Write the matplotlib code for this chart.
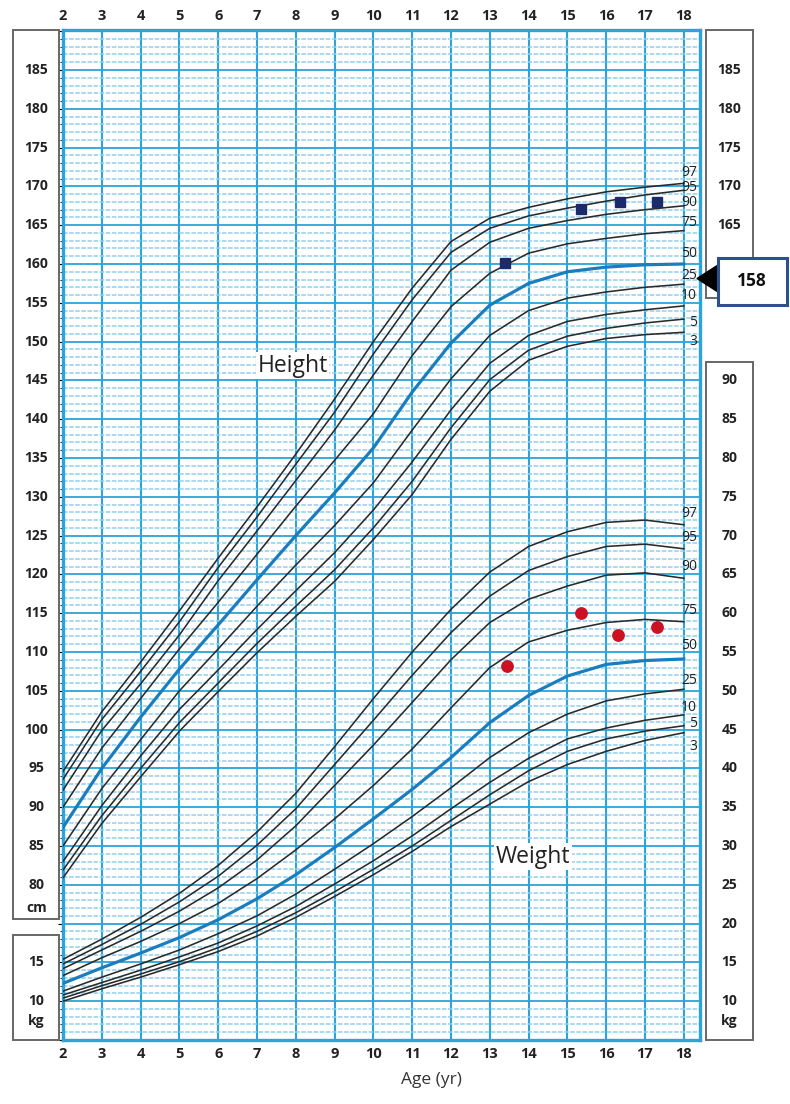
import numpy as np
import matplotlib
matplotlib.use("Agg")
import matplotlib.pyplot as plt
from matplotlib.patches import Rectangle, Polygon
from matplotlib.transforms import blended_transform_factory

# ---------------- data ----------------
ages = [2, 3, 4, 5, 6, 7, 8, 9, 10, 11, 12, 13, 14, 15, 16, 17, 18]
percentile_names = ["3", "5", "10", "25", "50", "75", "90", "95", "97"]

height_p3 = [80.9, 87.9, 93.9, 99.8, 104.9, 109.9, 114.6, 119.1, 124.5, 130.3, 137.4, 143.6, 147.6, 149.4, 150.4, 150.9, 151.2]
height_p5 = [81.9, 88.9, 95.0, 100.9, 106.0, 111.1, 115.9, 120.6, 126.0, 132.0, 138.9, 145.1, 148.9, 150.7, 151.7, 152.4, 152.9]
height_p10 = [83.0, 90.2, 96.6, 102.6, 107.7, 112.9, 117.9, 122.8, 128.3, 134.5, 141.2, 147.2, 150.8, 152.6, 153.5, 154.1, 154.6]
height_p25 = [85.0, 92.4, 98.7, 105.0, 110.4, 115.9, 121.2, 126.3, 131.8, 138.6, 145.2, 150.8, 154.0, 155.6, 156.4, 157.0, 157.4]
height_p50 = [87.4, 95.0, 101.6, 107.8, 113.5, 119.3, 125.0, 130.5, 136.3, 143.5, 149.8, 154.7, 157.5, 159.0, 159.6, 159.9, 160.0]
height_p75 = [90.0, 97.6, 104.0, 110.4, 116.4, 122.6, 128.8, 134.7, 140.7, 148.2, 154.5, 158.8, 161.4, 162.6, 163.3, 163.9, 164.3]
height_p90 = [92.2, 99.9, 105.9, 112.2, 119.2, 125.6, 132.1, 138.6, 145.7, 152.6, 159.2, 162.8, 164.6, 165.6, 166.4, 167.0, 167.5]
height_p95 = [93.6, 101.3, 107.5, 113.9, 120.9, 127.4, 134.2, 140.9, 148.4, 155.4, 161.5, 164.6, 166.2, 167.2, 168.1, 168.9, 169.5]
height_p97 = [94.6, 102.3, 108.7, 115.3, 122.1, 128.7, 135.5, 142.6, 150.0, 156.9, 162.9, 165.9, 167.3, 168.4, 169.3, 169.9, 170.4]

weight_p3 = [10.0, 11.6, 13.1, 14.7, 16.4, 18.4, 20.8, 23.5, 26.3, 29.3, 32.5, 35.4, 38.3, 40.5, 42.2, 43.6, 44.6]
weight_p5 = [10.4, 12.0, 13.5, 15.1, 16.9, 19.0, 21.4, 24.1, 27.0, 30.0, 33.3, 36.6, 39.7, 42.2, 43.8, 44.8, 45.5]
weight_p10 = [10.8, 12.4, 14.0, 15.7, 17.5, 19.7, 22.2, 25.1, 28.1, 31.3, 34.8, 38.2, 41.3, 43.8, 45.2, 46.2, 46.9]
weight_p25 = [11.3, 13.1, 14.8, 16.6, 18.7, 21.0, 23.8, 27.0, 30.3, 33.8, 37.5, 41.4, 44.6, 47.0, 48.7, 49.6, 50.2]
weight_p50 = [12.3, 14.3, 16.2, 18.2, 20.5, 23.2, 26.3, 29.8, 33.5, 37.3, 41.4, 45.9, 49.4, 51.9, 53.4, 53.9, 54.1]
weight_p75 = [13.3, 15.6, 17.7, 20.0, 22.6, 25.8, 29.5, 33.5, 37.8, 42.5, 47.8, 53.0, 56.3, 57.8, 58.8, 59.2, 58.9]
weight_p90 = [14.2, 16.6, 19.0, 21.6, 24.6, 28.2, 32.6, 37.8, 43.0, 48.5, 54.0, 58.8, 61.8, 63.5, 64.9, 65.2, 64.5]
weight_p95 = [14.8, 17.3, 19.9, 22.8, 26.1, 30.1, 34.8, 40.5, 46.2, 52.0, 57.5, 62.2, 65.5, 67.3, 68.6, 68.9, 68.3]
weight_p97 = [15.4, 18.0, 20.8, 23.9, 27.5, 31.8, 36.8, 42.8, 49.0, 55.0, 60.5, 65.3, 68.6, 70.5, 71.7, 72.0, 71.4]

patient_height_age = [13.4, 15.35, 16.35, 17.3]
patient_height = [160.1, 167.1, 168.0, 168.0]
patient_weight_age = [13.45, 15.35, 16.3, 17.3]
patient_weight = [53.2, 60.0, 57.2, 58.2]
current_height_text = "158"

height_left_labels = list(range(80, 186, 5))
height_right_labels = [185, 180, 175, 170, 165]
weight_left_labels = [15, 10]
weight_right_labels = list(range(10, 91, 5))

height_curves = [height_p3, height_p5, height_p10, height_p25, height_p50,
                 height_p75, height_p90, height_p95, height_p97]
weight_curves = [weight_p3, weight_p5, weight_p10, weight_p25, weight_p50,
                 weight_p75, weight_p90, weight_p95, weight_p97]

# ---------------- layout constants ----------------
W, H = 790, 1104
PX_PER_YEAR = 38.8
PX_PER_UNIT = 7.76
AX_L, AX_R, AX_T, AX_B = 63, 700, 30, 1040
WEIGHT_SHIFT = 55  # weight axis offset vs height axis

def fx(px):
    return px / W

def fy(py):
    return 1 - py / H

GRID_BLUE = "#2aa4da"
MINOR_BLUE = "#92d0ec"
CURVE_BLACK = "#2a2a2a"
MEDIAN_BLUE = "#1a7dbd"
TEXT = "#222222"
NUM_FONT = ["Open Sans", "DejaVu Sans"]

fig = plt.figure(figsize=(W / 100, H / 100), dpi=100)
ax = fig.add_axes([fx(AX_L), fy(AX_B), fx(AX_R - AX_L), (AX_B - AX_T) / H])
x_max = 2 + (AX_R - AX_L) / PX_PER_YEAR
y_min, y_max = 60, 60 + (AX_B - AX_T) / PX_PER_UNIT
ax.set_xlim(2, x_max)
ax.set_ylim(y_min, y_max)

# grid
ax.set_xticks(ages)
ax.set_yticks(np.arange(60, 191, 5))
ax.set_yticks(np.arange(60, 191, 1), minor=True)
ax.set_axisbelow(True)
ax.grid(which="minor", axis="y", color=MINOR_BLUE, lw=1.1, ls=(0, (3, 1)))
ax.grid(which="major", axis="y", color=GRID_BLUE, lw=1.3)
ax.grid(which="major", axis="x", color=GRID_BLUE, lw=1.5)
for s in ax.spines.values():
    s.set_color(GRID_BLUE)
    s.set_linewidth(2.4)

ax.tick_params(axis="y", which="both", left=False, right=False,
               labelleft=False, labelright=False)
ax.tick_params(axis="x", which="both", length=0, top=True, bottom=True,
               labeltop=True, labelbottom=True, pad=5, labelsize=10.5,
               labelcolor=TEXT)
for lab in ax.get_xticklabels():
    lab.set_fontweight("bold")
    lab.set_fontfamily(NUM_FONT)

ax2 = ax.twinx()
ax2.set_ylim(y_min - WEIGHT_SHIFT, y_max - WEIGHT_SHIFT)
ax2.set_xlim(2, x_max)
ax2.axis("off")

# curves
for name, vals in zip(percentile_names, height_curves):
    if name == "50":
        ax.plot(ages, vals, color=MEDIAN_BLUE, lw=2.3, zorder=3,
                solid_joinstyle="round")
    else:
        ax.plot(ages, vals, color=CURVE_BLACK, lw=1.15, zorder=3,
                solid_joinstyle="round")
for name, vals in zip(percentile_names, weight_curves):
    if name == "50":
        ax2.plot(ages, vals, color=MEDIAN_BLUE, lw=2.3, zorder=3,
                 solid_joinstyle="round")
    else:
        ax2.plot(ages, vals, color=CURVE_BLACK, lw=1.15, zorder=3,
                 solid_joinstyle="round")

# patient data
ax.plot(patient_height_age, patient_height, ls="none", marker="s", ms=7.5,
        color="#1b2a6b", zorder=5)
ax2.plot(patient_weight_age, patient_weight, ls="none", marker="o", ms=8.2,
         color="#cc1122", zorder=5)

# percentile labels
lab_x = 2 + (697 - AX_L) / PX_PER_YEAR
h_label_y = [150.0, 152.5, 155.9, 158.5, 161.4, 165.3, 167.9, 169.8, 171.8]
w_label_y = [42.8, 45.8, 47.9, 51.3, 55.9, 60.4, 66.0, 69.7, 72.9]
for name, yv in zip(percentile_names, h_label_y):
    ax.text(lab_x, yv, name, ha="right", va="center", fontsize=10,
            color=TEXT, family=NUM_FONT, zorder=6)
for name, yv in zip(percentile_names, w_label_y):
    ax2.text(lab_x, yv, name, ha="right", va="center", fontsize=10,
             color=TEXT, family=NUM_FONT, zorder=6)

ax.text(2 + (293 - AX_L) / PX_PER_YEAR, 146.9, "Height", ha="center",
        va="center", fontsize=16.5, color=TEXT, family=NUM_FONT, zorder=6,
        bbox=dict(facecolor="white", edgecolor="none", pad=1.0))
ax2.text(2 + (533 - AX_L) / PX_PER_YEAR, 28.6, "Weight", ha="center",
         va="center", fontsize=16.5, color=TEXT, family=NUM_FONT, zorder=6,
         bbox=dict(facecolor="white", edgecolor="none", pad=1.0))

# side boxes
def box(x0, y0, x1, y1, ec="#666666", lw=1.4):
    fig.add_artist(Rectangle((fx(x0), fy(y1)), fx(x1 - x0), (y1 - y0) / H,
                             transform=fig.transFigure, facecolor="white",
                             edgecolor=ec, lw=lw, zorder=1))

box(13, 30, 59.5, 918.5)
box(13, 935, 59.5, 1039.5)
box(706, 30, 752.5, 298)
box(706, 362, 752.5, 1039.5)

tl = blended_transform_factory(fig.transFigure, ax.transData)
tw = blended_transform_factory(fig.transFigure, ax2.transData)
for v in height_left_labels:
    fig.text(fx(36.5), v, str(v), transform=tl, ha="center", va="center",
             fontsize=10, fontweight="bold", color=TEXT, family=NUM_FONT)
fig.text(fx(36.5), 77.0, "cm", transform=tl, ha="center", va="center",
         fontsize=10, fontweight="bold", color=TEXT, family=NUM_FONT)
for v in weight_left_labels:
    fig.text(fx(36.5), v, str(v), transform=tw, ha="center", va="center",
             fontsize=10, fontweight="bold", color=TEXT, family=NUM_FONT)
fig.text(fx(36.5), 7.4, "kg", transform=tw, ha="center", va="center",
         fontsize=10, fontweight="bold", color=TEXT, family=NUM_FONT)
for v in height_right_labels:
    fig.text(fx(729.5), v, str(v), transform=tl, ha="center", va="center",
             fontsize=10, fontweight="bold", color=TEXT, family=NUM_FONT)
for v in weight_right_labels:
    fig.text(fx(729.5), v, str(v), transform=tw, ha="center", va="center",
             fontsize=10, fontweight="bold", color=TEXT, family=NUM_FONT)
fig.text(fx(729.5), 7.4, "kg", transform=tw, ha="center", va="center",
         fontsize=10, fontweight="bold", color=TEXT, family=NUM_FONT)

# current height marker
tri = Polygon([[fx(697), fy(278.5)], [fx(718), fy(265)], [fx(718), fy(292)]],
              closed=True, transform=fig.transFigure, facecolor="black",
              edgecolor="black", zorder=7)
fig.add_artist(tri)
fig.add_artist(Rectangle((fx(717.5), fy(305)), fx(69), 47 / H,
                         transform=fig.transFigure, facecolor="white",
                         edgecolor="#2d4f8e", lw=2.2, zorder=7))
fig.text(fx(752), fy(281.5), current_height_text, ha="center", va="center",
         fontsize=12.5, fontweight="bold", color="#111111", family=NUM_FONT,
         zorder=8)

fig.text(fx(431), fy(1080), "Age (yr)", ha="center", va="center",
         fontsize=12.5, color="#333333", family=NUM_FONT)

fig.savefig("out.png", dpi=100)
